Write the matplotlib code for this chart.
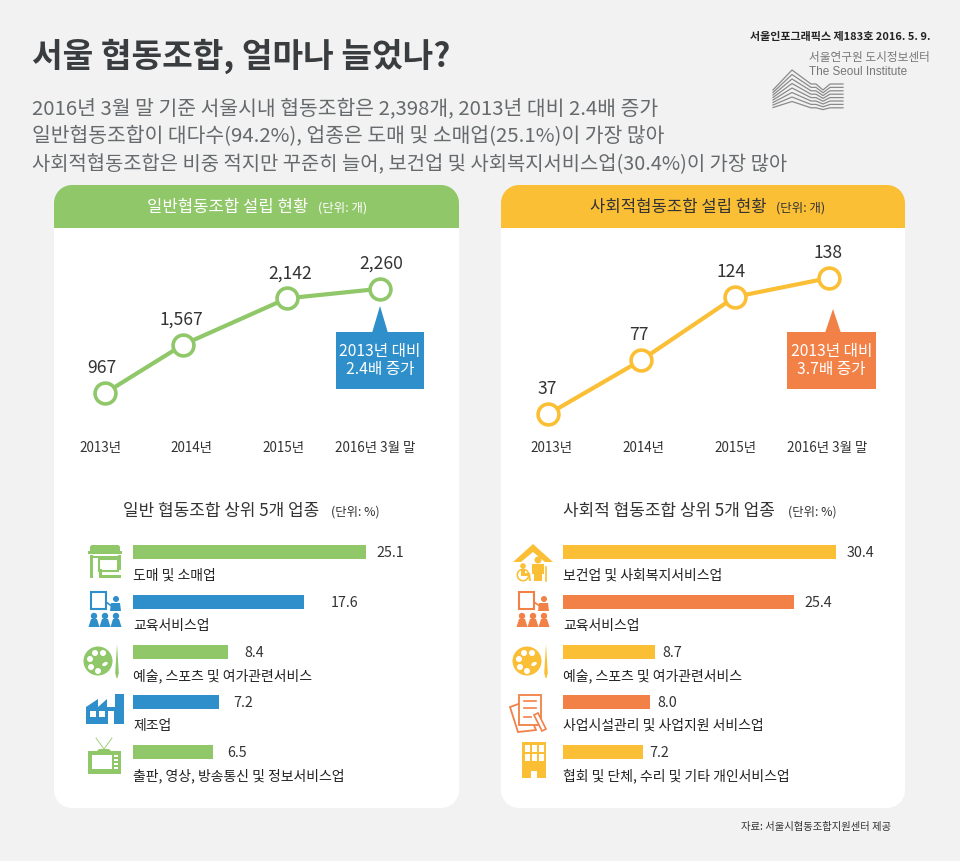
import numpy as np
import matplotlib
matplotlib.use('Agg')
import matplotlib.pyplot as plt
from matplotlib.patches import FancyBboxPatch, Rectangle, Circle, Ellipse, Polygon, Wedge

plt.rcParams['font.family'] = ['Noto Sans CJK KR', 'DejaVu Sans']

# line chart data
periods = ['2013년', '2014년', '2015년', '2016년 3월 말']
general_counts = [967, 1567, 2142, 2260]
social_counts = [37, 77, 124, 138]
general_x = [0.055, 0.905, 2.04, 3.05]
social_x = [-0.03, 0.98, 2.0, 3.02]

# top 5 industries
general_inds = ['도매 및 소매업', '교육서비스업', '예술, 스포츠 및 여가관련서비스', '제조업', '출판, 영상, 방송통신 및 정보서비스업']
general_share = [25.1, 17.6, 8.4, 7.2, 6.5]
social_inds = ['보건업 및 사회복지서비스업', '교육서비스업', '예술, 스포츠 및 여가관련서비스', '사업시설관리 및 사업지원 서비스업', '협회 및 단체, 수리 및 기타 개인서비스업']
social_share = [30.4, 25.4, 8.7, 8.0, 7.2]

GREEN = '#8fc769'
YELLOW = '#fbbf36'
BLUE = '#2e8fca'
ORANGE = '#f28147'
DARK = '#333333'
GRAY = '#666a6c'
BG = '#f2f2f2'
W, H = 960, 861

fig = plt.figure(figsize=(9.6, 8.61), dpi=100, facecolor=BG)
bg = fig.add_axes([0, 0, 1, 1])
bg.set_xlim(0, W)
bg.set_ylim(H, 0)
bg.axis('off')


def px_axes(x0, y0, x1, y1):
    ax = fig.add_axes([x0 / W, 1 - y1 / H, (x1 - x0) / W, (y1 - y0) / H])
    ax.patch.set_alpha(0)
    for s in ax.spines.values():
        s.set_visible(False)
    return ax


def txt(x, y, s, size, color=DARK, ha='left', **kw):
    # Noto sits a little high with va=center
    bg.text(x, y + size * 0.18, s, fontsize=size, color=color, ha=ha, va='center', **kw)


def panel(x0, x1, color, title, title_color, title_x, unit_x):
    bg.add_patch(Rectangle((x0, 203), x1 - x0, 587, fc='white', ec='none'))
    bg.add_patch(Rectangle((x0 + 18, 185), x1 - x0 - 36, 623, fc='white', ec='none'))
    for cx, cy in [(x0 + 18, 790), (x1 - 18, 790)]:
        bg.add_patch(Circle((cx, cy), 18, fc='white', ec='none'))
    bg.add_patch(Rectangle((x0, 203), x1 - x0, 25, fc=color, ec='none'))
    bg.add_patch(Rectangle((x0 + 18, 185), x1 - x0 - 36, 20, fc=color, ec='none'))
    for cx in [x0 + 18, x1 - 18]:
        bg.add_patch(Circle((cx, 203), 18, fc=color, ec='none'))
    txt(title_x, 205, title, 12, title_color, ha='center')
    txt(unit_x, 206, '(단위: 개)', 9, title_color)


def line_chart(box, xs, counts, color, ylim, tick_xlim, label_dx):
    ax = px_axes(*box)
    ax.plot(xs, counts, color=color, lw=3, marker='o', ms=15, mfc='white', mec=color, mew=2.6, clip_on=False)
    ax.set_xlim(*tick_xlim)
    ax.set_ylim(*ylim)
    ax.set_yticks([])
    ax.set_xticks(range(len(periods)))
    ax.set_xticklabels(periods, fontsize=9.7, color=DARK)
    ax.tick_params(axis='x', length=0, pad=8)
    for x, v, dx in zip(xs, counts, label_dx):
        ax.annotate(f'{v:,}', (x, v), xytext=(dx, 25), textcoords='offset pixels',
                    ha='center', va='center', fontsize=12.6, color=DARK)


def callout(x0, x1, apex, color, lines):
    bg.add_patch(Rectangle((x0, 332), x1 - x0, 57, fc=color, ec='none'))
    bg.add_patch(Polygon([(apex[0] - 8, 333), (apex[0], apex[1]), (apex[0] + 8, 333)], fc=color, ec='none'))
    txt((x0 + x1) / 2, 349, lines[0], 11.3, 'white', ha='center')
    txt((x0 + x1) / 2, 367, lines[1], 11.3, 'white', ha='center')


def bar_chart(x0, base, scale, shares, inds, colors, pads):
    ax = px_axes(x0, 527, x0 + 310, 777)
    shares = np.array(shares)
    ax.barh(range(5), shares - base, left=base, height=0.28, color=colors)
    ax.set_xlim(base, base + 310 / scale)
    ax.set_ylim(4.5, -0.5)
    ax.axis('off')
    for i, (v, name) in enumerate(zip(shares, inds)):
        ax.annotate(f'{v}', (v, i), xytext=(pads[i], -1), textcoords='offset pixels', va='center', fontsize=10.3, color=DARK)
        ax.annotate(name, (base, i), xytext=(0, -24), textcoords='offset pixels', va='center', fontsize=10, color='#222222')


# icons, cx/cy is the icon centre in picture pixels
def teach_icon(cx, cy, c):
    bg.add_patch(Rectangle((cx - 14, cy - 18), 15, 17, fc='white', ec=c, lw=1.5))
    bg.add_patch(Circle((cx + 11, cy - 11), 3, fc=c, ec='none'))
    bg.add_patch(Polygon([(cx + 6, cy - 7), (cx + 15, cy - 7), (cx + 16, cy + 1), (cx + 5, cy + 1)], fc=c, ec='none'))
    bg.plot([cx + 1, cx + 8], [cy - 8, cy - 3], color=c, lw=1.2)
    for dx in (-11, 0, 11):
        bg.add_patch(Circle((cx + dx, cy + 6), 3.2, fc=c, ec='none'))
        bg.add_patch(Polygon([(cx + dx - 5.5, cy + 17), (cx + dx - 3, cy + 9), (cx + dx + 3, cy + 9), (cx + dx + 5.5, cy + 17)], fc=c, ec='none'))


def palette_icon(cx, cy, c):
    bg.add_patch(Ellipse((cx - 4, cy), 29, 29, fc=c, ec='none'))
    for dx, dy in [(-13, -3), (-8, -9), (0, -9), (-12, 5), (-5, 9)]:
        bg.add_patch(Circle((cx + dx + 1, cy + dy + 1), 3, fc='white', ec='none'))
    bg.add_patch(Ellipse((cx + 3, cy + 3), 6, 3.5, angle=-30, fc='white', ec='none'))
    bg.add_patch(Polygon([(cx + 15, cy - 17), (cx + 16.8, cy + 12), (cx + 15.5, cy + 17), (cx + 14.5, cy + 17), (cx + 13.2, cy + 12)], fc=c, ec='none'))


def shop_icon(cx, cy, c):
    bg.add_patch(FancyBboxPatch((cx - 15, cy - 16), 30, 8, boxstyle='round,pad=0,rounding_size=2.5', fc=c, ec='none'))
    bg.add_patch(Rectangle((cx - 17, cy - 10), 34, 3, fc=c, ec='none'))
    bg.add_patch(Rectangle((cx - 15, cy - 6), 3, 23, fc=c, ec='none'))
    bg.add_patch(Rectangle((cx - 15, cy - 5), 31, 2, fc=c, ec='none'))
    bg.add_patch(Rectangle((cx + 13, cy - 6), 3, 15, fc=c, ec='none'))
    bg.add_patch(Rectangle((cx - 6, cy - 2), 19, 12, fc='white', ec=c, lw=1.5))
    bg.add_patch(Rectangle((cx - 6, cy + 8), 2.5, 9, fc=c, ec='none'))
    bg.add_patch(Rectangle((cx - 6, cy + 14), 22, 3, fc=c, ec='none'))


def factory_icon(cx, cy, c):
    pts = [(cx - 19, cy + 15), (cx - 19, cy - 2), (cx - 7, cy - 10), (cx - 7, cy - 2), (cx + 2, cy - 10), (cx + 2, cy - 2),
           (cx + 10, cy - 2), (cx + 10, cy - 15), (cx + 19, cy - 15), (cx + 19, cy + 15)]
    bg.add_patch(Polygon(pts, fc=c, ec='none'))
    for dx in (-15, -6):
        bg.add_patch(Rectangle((cx + dx, cy + 2), 6, 6, fc='white', ec='none'))
    bg.add_patch(Rectangle((cx + 3, cy + 2), 6, 13, fc='white', ec='none'))


def tv_icon(cx, cy, c):
    bg.plot([cx - 8, cx, cx + 8], [cy - 18, cy - 7, cy - 18], color=c, lw=0.6)
    bg.add_patch(Polygon([(cx - 5, cy - 7), (cx + 5, cy - 7), (cx + 7, cy - 5), (cx - 7, cy - 5)], fc=c, ec='none'))
    bg.add_patch(Rectangle((cx - 16, cy - 5), 33, 23, fc=c, ec='none'))
    bg.add_patch(Rectangle((cx - 12, cy - 1), 20, 14, fc='white', ec='none'))
    for dy in (0, 4, 8, 12):
        bg.add_patch(Rectangle((cx + 10, cy - 1 + dy), 4, 2, fc='white', ec='none'))


def house_icon(cx, cy, c):
    bg.add_patch(Polygon([(cx - 20, cy - 1), (cx, cy - 19), (cx + 20, cy - 1), (cx + 12, cy - 1), (cx, cy - 11), (cx - 12, cy - 1)], fc=c, ec='none'))
    bg.add_patch(Circle((cx + 5, cy - 3), 3.5, fc=c, ec='none'))
    bg.add_patch(Polygon([(cx - 1, cy + 1), (cx + 11, cy + 1), (cx + 11, cy + 11), (cx + 9, cy + 11), (cx + 9, cy + 18), (cx + 1, cy + 18), (cx + 1, cy + 11), (cx - 1, cy + 11)], fc=c, ec='none'))
    bg.plot([cx + 13, cx + 13], [cy + 4, cy + 18], color=c, lw=1.2)
    bg.add_patch(Circle((cx - 10, cy + 3), 2.8, fc=c, ec='none'))
    bg.add_patch(Wedge((cx - 10, cy + 12), 6.5, 0, 360, width=1.6, fc=c, ec='none'))
    bg.add_patch(Polygon([(cx - 12, cy + 6), (cx - 8, cy + 6), (cx - 8, cy + 10), (cx - 3, cy + 10), (cx - 2, cy + 18), (cx - 4, cy + 18), (cx - 5, cy + 13), (cx - 12, cy + 13)], fc=c, ec='none'))


def paper_icon(cx, cy, c):
    bg.add_patch(Polygon([(cx - 18, cy - 6), (cx - 4, cy - 11), (cx + 8, cy + 17), (cx - 10, cy + 19)], fc='white', ec=c, lw=1.3))
    bg.add_patch(Rectangle((cx - 9, cy - 18), 22, 30, fc='white', ec=c, lw=1.3))
    for y0, x1 in [(-12, 8), (-5, 8), (4, 3)]:
        bg.plot([cx - 4, cx + x1], [cy + y0, cy + y0], color=c, lw=1.2)
    bg.add_patch(Polygon([(cx + 6, cy + 2), (cx + 10, cy), (cx + 18, cy + 16), (cx + 14, cy + 18)], fc='white', ec=c, lw=1.2))


def building_icon(cx, cy, c):
    bg.add_patch(Rectangle((cx - 12, cy - 19), 24, 36, fc=c, ec='none'))
    for row in (-16, -7):
        for dx in (-9, -2, 5):
            bg.add_patch(Rectangle((cx + dx, cy + row), 4.5, 7, fc='white', ec='none'))
    bg.add_patch(Rectangle((cx - 3, cy + 10), 6, 7, fc='white', ec='none'))


# header
txt(32, 52, '서울 협동조합, 얼마나 늘었나?', 24, '#3a3d3f', fontweight='bold')
txt(32, 106, '2016년 3월 말 기준 서울시내 협동조합은 2,398개, 2013년 대비 2.4배 증가', 14.7, GRAY)
txt(32, 134, '일반협동조합이 대다수(94.2%), 업종은 도매 및 소매업(25.1%)이 가장 많아', 14.7, GRAY)
txt(32, 162, '사회적협동조합은 비중 적지만 꾸준히 늘어, 보건업 및 사회복지서비스업(30.4%)이 가장 많아', 14.3, GRAY)
txt(930, 36, '서울인포그래픽스 제183호 2016. 5. 9.', 7.95, '#222222', ha='right', fontweight='bold')
txt(930, 56, '서울연구원 도시정보센터', 8.4, '#777777', ha='right')
txt(809, 70, 'The Seoul Institute', 8.5, '#777777', family='Liberation Sans')

# logo lines
for i in range(8):
    lx = [773, 792, 811, 816, 823, 830, 843]
    dip = 6 - i * 0.6
    right = 84 + i * 3.4
    ly = [90 + i * 2.5, 70 + i * 4.5, right, right, right + dip, right, right]
    bg.plot(lx, ly, color='#8a8a8a', lw=0.9)

panel(54, 459, GREEN, '일반협동조합 설립 현황', 'white', 227.5, 318)
panel(501, 905, YELLOW, '사회적협동조합 설립 현황', '#333333', 678, 776)

line_chart((60, 240, 450, 430), general_x, general_counts, GREEN, (510, 2865), (-40 / 91.67, 350 / 91.67), [-3, -2, 3, 2])
line_chart((510, 240, 900, 430), social_x, social_counts, YELLOW, (25.2, 166.2), (-41 / 92, 349 / 92), [-1, -2, -4, -1])
callout(336, 424, (380, 306), BLUE, ['2013년 대비', '2.4배 증가'])
callout(787, 876, (833, 309), ORANGE, ['2013년 대비', '3.7배 증가'])

txt(123, 509, '일반 협동조합 상위 5개 업종', 12.2)
txt(331, 510, '(단위: %)', 8.9)
txt(563, 509, '사회적 협동조합 상위 5개 업종', 12.2)
txt(788, 510, '(단위: %)', 8.9)

bar_chart(133, -3.2, 8.23, general_share, general_inds, [GREEN, BLUE, GREEN, BLUE, GREEN], [11, 27, 16, 15, 14])
bar_chart(563, -2.4, 8.32, social_share, social_inds, [YELLOW, ORANGE, YELLOW, ORANGE, YELLOW], [11, 10, 7, 8, 6])

shop_icon(105, 561, GREEN)
teach_icon(105, 610, BLUE)
palette_icon(102, 661, GREEN)
factory_icon(105, 709, BLUE)
tv_icon(104, 756, GREEN)
house_icon(533, 563, YELLOW)
teach_icon(533, 610, ORANGE)
palette_icon(531, 661, YELLOW)
paper_icon(528, 713, ORANGE)
building_icon(534, 761, YELLOW)

txt(891, 826, '자료: 서울시협동조합지원센터 제공', 7.45, DARK, ha='right')

fig.savefig('out.png', dpi=100, facecolor=BG)
